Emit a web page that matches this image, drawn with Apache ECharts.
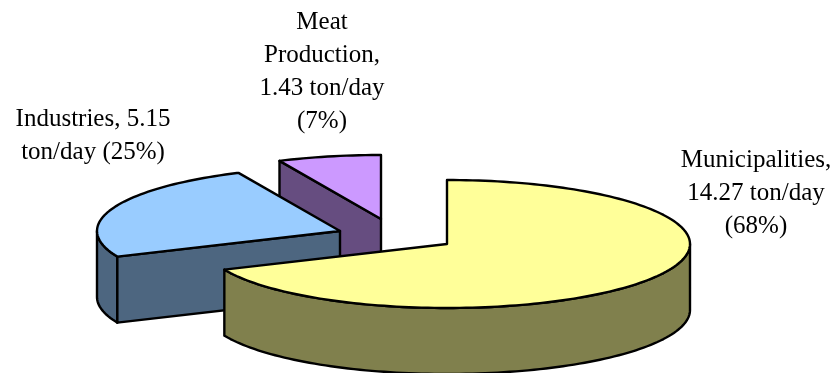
<!DOCTYPE html>
<html>
<head>
<meta charset="utf-8">
<style>html,body{margin:0;padding:0;background:#fff}#chart{width:834px;height:373px}</style>
<script src="https://cdn.jsdelivr.net/npm/echarts@6/dist/echarts.min.js"></script>
</head>
<body>
<div id="chart"></div>
<script>
// Daily waste load by source, ton/day
const sources = ['Municipalities', 'Industries', 'Meat Production'];
const tonsPerDay = [14.27, 5.15, 1.43];
const labelLines = [
  'Municipalities,\n14.27 ton/day\n(68%)',
  'Industries, 5.15\nton/day (25%)',
  'Meat\nProduction,\n1.43 ton/day\n(7%)'
];
const topColors = ['#FFFF99', '#99CCFF', '#CC99FF'];
const sideColors = ['#80804D', '#4D6680', '#664D80'];

// Exploded apex of each wedge and the anchor of its caption
const apexes = [[447, 244], [340, 231], [381, 219]];
const captionAnchors = [[756, 144], [93, 103], [322, 6]];
const RX = 243, RY = 64, DEPTH = 66;

const total = tonsPerDay.reduce((a, b) => a + b, 0);
const startAngles = [];
tonsPerDay.reduce((acc, v, i) => { startAngles[i] = acc; return acc + v / total * 360; }, 0);

// Angles are clockwise from the back of the ellipse
function rimPoint(c, deg, drop) {
  const r = deg * Math.PI / 180;
  return [c[0] + RX * Math.sin(r), c[1] - RY * Math.cos(r) + (drop || 0)];
}
function arc(c, from, to, drop) {
  const pts = [];
  for (let a = from; a < to; a += 1.5) pts.push(rimPoint(c, a, drop));
  pts.push(rimPoint(c, to, drop));
  return pts;
}
const outline = { stroke: '#000', lineWidth: 2.4, lineJoin: 'round' };

function renderWedge(params, api) {
  const i = params.dataIndex;
  const c = apexes[i];
  const from = startAngles[i];
  const to = from + api.value(1) / total * 360;
  const layer = (tonsPerDay.length - i) * 10;
  const side = sideColors[i];
  const children = [];
  const addSide = pts => children.push({
    type: 'polygon', z2: layer, shape: { points: pts },
    style: Object.assign({ fill: side }, outline)
  });

  // Outer wall, only where the rim faces the viewer
  const wallFrom = Math.max(from, 90), wallTo = Math.min(to, 270);
  if (wallFrom < wallTo) {
    addSide(arc(c, wallFrom, wallTo, 0).concat(arc(c, wallFrom, wallTo, DEPTH).reverse()));
  }
  // The leading cut face turns towards the viewer on the far side of the pie
  if (from > 180) {
    const p = rimPoint(c, from);
    addSide([c, p, [p[0], p[1] + DEPTH], [c[0], c[1] + DEPTH]]);
  }

  children.push({
    type: 'polygon', z2: layer + 1,
    shape: { points: [c].concat(arc(c, from, to, 0)) },
    style: Object.assign({ fill: topColors[i] }, outline)
  });
  children.push({
    type: 'text', z2: 100,
    style: {
      x: captionAnchors[i][0], y: captionAnchors[i][1],
      text: labelLines[i], fill: '#000', align: 'center', verticalAlign: 'top',
      font: '25px "Liberation Serif"', lineHeight: 33
    }
  });
  return { type: 'group', children };
}

const chart = echarts.init(document.getElementById('chart'), null, { renderer: 'canvas' });
chart.setOption({
  animation: false,
  backgroundColor: '#fff',
  series: [{
    type: 'custom',
    coordinateSystem: 'none',
    silent: true,
    data: sources.map((name, i) => ({ name, value: [i, tonsPerDay[i]] })),
    renderItem: renderWedge
  }]
});
</script>
</body>
</html>
